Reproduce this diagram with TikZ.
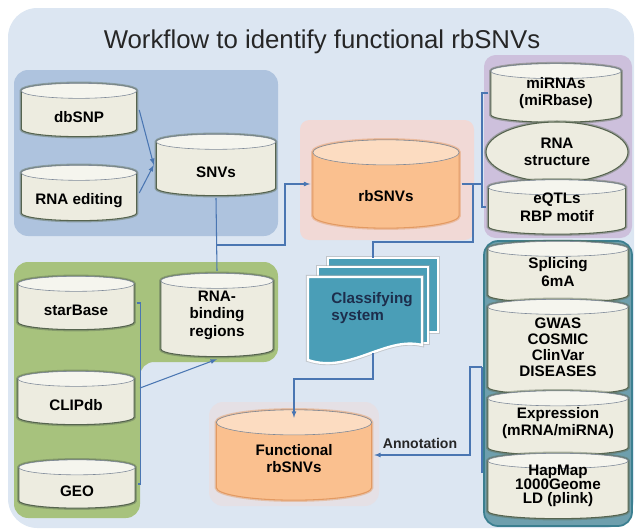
\documentclass[tikz,border=0pt]{standalone}
\usepackage{fontspec}
\setmainfont{Liberation Sans}
\usetikzlibrary{shapes.geometric, calc}

\definecolor{bgblue}{HTML}{DCE6F2}
\definecolor{grpblue}{HTML}{AEC3DE}
\definecolor{grpgreen}{HTML}{A7C27D}
\definecolor{grppurple}{HTML}{CDC0DC}
\definecolor{grpteal}{HTML}{6E9FAD}
\definecolor{tealline}{HTML}{3B7F90}
\definecolor{cream}{HTML}{EDECE0}
\definecolor{creamtop}{HTML}{F5F5EE}
\definecolor{dbline}{HTML}{56644F}
\definecolor{dbshadow}{HTML}{5F6E58}
\definecolor{rimgray}{HTML}{7F8A99}
\definecolor{orbody}{HTML}{FAC08F}
\definecolor{ortop}{HTML}{FCDCC1}
\definecolor{orline}{HTML}{E39A62}
\definecolor{pinkglow}{HTML}{F1D9D6}
\definecolor{linkblue}{HTML}{4A76B2}
\definecolor{docteal}{HTML}{4A9EB7}
\definecolor{doctext}{HTML}{1D2E4C}
\definecolor{titlegray}{HTML}{262626}

\begin{document}
\begin{tikzpicture}[
    x=0.03cm, y=-0.03cm,
    font=\bfseries\fontsize{13}{15}\selectfont,
    cyl ry/.store in=\cylry,
    cyl body/.store in=\cylbody,
    cyl end/.store in=\cylend,
    cyl line/.store in=\cylline,
    cyl glow/.store in=\cylglow,
    db/.style={
        rectangle,
        inner sep=0pt,
        align=center,
        cyl ry=6.4pt, cyl body=cream, cyl end=creamtop, cyl line=dbline, cyl glow=dbshadow,
        execute at begin node={\rule{0pt}{\dimexpr 9.4pt+\cylry*2\relax}},
        path picture={
            \path let \p1=(path picture bounding box.south west),
                      \p2=(path picture bounding box.north east),
                      \n1={(\x2-\x1)/2-2pt}, \n2={\x1+2pt}, \n3={\x2-2pt},
                      \n4={\y2-2pt-\cylry}, \n5={\y1+2pt+\cylry}
                in [fill=\cylbody, draw=\cylline, line width=0.9pt,
                    preaction={draw=\cylglow, line width=3pt, opacity=0.45}]
                (\n2,\n4) -- (\n2,\n5)
                arc[start angle=180, end angle=360, x radius=\n1, y radius=\cylry]
                -- (\n3,\n4)
                arc[start angle=0, end angle=180, x radius=\n1, y radius=\cylry] -- cycle;
            \path let \p1=(path picture bounding box.south west),
                      \p2=(path picture bounding box.north east),
                      \n1={(\x2-\x1)/2-2pt}, \n4={\y2-2pt-\cylry}, \n6={(\x1+\x2)/2}
                in [fill=\cylend, draw=rimgray, line width=0.5pt]
                (\n6,\n4) ellipse[x radius=\n1, y radius=\cylry];
        }
    },
    hot/.style={db, cyl ry=10.7pt, cyl body=orbody, cyl end=ortop, cyl line=orline, cyl glow=orline},
    oval/.style={ellipse, draw=dbline, line width=0.9pt, fill=cream,
        preaction={draw=dbshadow, line width=3pt, opacity=0.45}, align=center, inner sep=0pt},
    page/.style={fill=docteal, draw=white, line width=2pt,
        preaction={draw=black!35, line width=3.5pt, opacity=0.5}},
    link/.style={draw=linkblue, line width=0.9pt},
    arr/.style={link, ->, >=latex},
    lbl/.style={font=\bfseries\fontsize{12}{14}\selectfont, text=black!85}
]
\useasboundingbox (0,0) rectangle (637,531);

% Panels
\fill[bgblue, rounded corners=25pt] (8,8) rectangle (634,528);
\fill[grpblue, rounded corners=12pt] (14,70) rectangle (278,236);
\fill[grpgreen, rounded corners=12pt] (14,262) -- (278,262) -- (278,362) -- (140,362) -- (140,518) -- (14,518) -- cycle;
\fill[grppurple, rounded corners=10pt] (484,55) rectangle (632,238);
\filldraw[fill=grpteal, draw=tealline, line width=1.5pt, rounded corners=12pt] (484,241) rectangle (632,526);
\fill[pinkglow, rounded corners=8pt] (300,120) rectangle (474,240);
\fill[pinkglow, rounded corners=12pt, opacity=0.45] (209,402) rectangle (379,506);

\node[font=\fontsize{22}{26}\selectfont, text=titlegray] (title) at (322,42) {Workflow to identify functional rbSNVs};

% Sources of SNVs
\node[db, minimum width=3.6cm, minimum height=1.74cm] (dbsnp) at (79,110) {dbSNP};
\node[db, minimum width=3.6cm, minimum height=1.8cm] (rnaedit) at (79,193) {RNA editing};
\node[db, minimum width=3.72cm, minimum height=1.98cm] (snvs) at (216,165) {SNVs};

% Binding regions
\node[db, minimum width=3.63cm, minimum height=1.74cm] (starbase) at (76,303) {starBase};
\node[db, minimum width=3.63cm, minimum height=1.74cm] (clip) at (76,398) {CLIPdb};
\node[db, minimum width=3.63cm, minimum height=1.59cm] (geo) at (77,484) {GEO};
\node[db, minimum width=3.51cm, minimum height=2.64cm] (rbr) at (217,315) {RNA-\\binding\\regions};

% Results
\node[hot, minimum width=4.53cm, minimum height=2.79cm] (rbsnvs) at (386,184) {rbSNVs};
\node[hot, minimum width=4.8cm, minimum height=2.85cm] (func) at (294,455) {Functional\\rbSNVs};

% Target annotations
\node[db, minimum width=4.05cm, minimum height=1.9cm] (mirna) at (556,93) {miRNAs\\(miRbase)};
\node[oval, minimum width=4.26cm, minimum height=1.8cm] (rnastruct) at (557,152) {RNA\\structure};
\node[db, minimum width=4.26cm, minimum height=1.77cm] (eqtl) at (557,207) {eQTLs\\RBP motif};

% Functional annotations
\node[db, minimum width=4.35cm, minimum height=1.98cm] (splice) at (558,272) {Splicing\\6mA};
\node[db, minimum width=4.35cm, minimum height=3.0cm, font=\bfseries\fontsize{13}{13.7}\selectfont] (gwas) at (558,347) {GWAS\\COSMIC\\ClinVar\\DISEASES};
\node[db, minimum width=4.35cm, minimum height=2.07cm] (expr) at (558,423) {Expression\\(mRNA/miRNA)};
\node[db, minimum width=4.35cm, minimum height=2.1cm, font=\bfseries\fontsize{13}{12}\selectfont] (hapmap) at (558,486) {HapMap\\1000Geome\\LD (plink)};

% Classifying system
\filldraw[page] (328,258) rectangle (438,332);
\filldraw[page] (318,267) rectangle (428,343);
\filldraw[page] (308,277) -- (422,277) -- (422,345) .. controls (385,336) and (350,374) .. (308,360) -- cycle;
\node[text=doctext, align=left] (cls) at (372,308) {Classifying\\system};
\coordinate (clstop) at (373,258);
\coordinate (clsbot) at (373,353);

% Edges
\draw[arr] (dbsnp.east) -- (snvs.west);
\draw[arr] (rnaedit.east) -- (snvs.west);
\draw[link] (snvs.south) -- (rbr.north);
\coordinate (sj) at (snvs.south |- 0,245);
\coordinate (sk) at (285,0 |- rbsnvs.west);
\draw[arr] (sj) -| (sk) -- (rbsnvs.west);

\draw[link] (starbase.east) -- ++(4,0) |- (geo.east);
\coordinate (gmid) at (140,388);
\draw[arr] (gmid) -- (rbr.south);

\coordinate (rb1) at (482,0 |- rbsnvs.east);
\coordinate (rb2) at (473,0 |- rbsnvs.east);
\coordinate (rb3) at (373,242);
\draw[link] (rbsnvs.east) -- (rb1);
\draw[link] (mirna.west) -| (rb1) |- (eqtl.west);
\draw[link] (rb2) |- (rb3) -- (clstop);
\draw[arr] (clsbot) -- ++(0,26) -| ([yshift=-9pt]func.north);

\coordinate (ab1) at (482,367);
\coordinate (ab2) at (482,473);
\coordinate (ab3) at (470,367);
\draw[link] (ab1) -- (ab2);
\draw[arr] (ab1) -- (ab3) |- (func.east);
\node[lbl] (annot) at (420,443) {Annotation};

\end{tikzpicture}
\end{document}
